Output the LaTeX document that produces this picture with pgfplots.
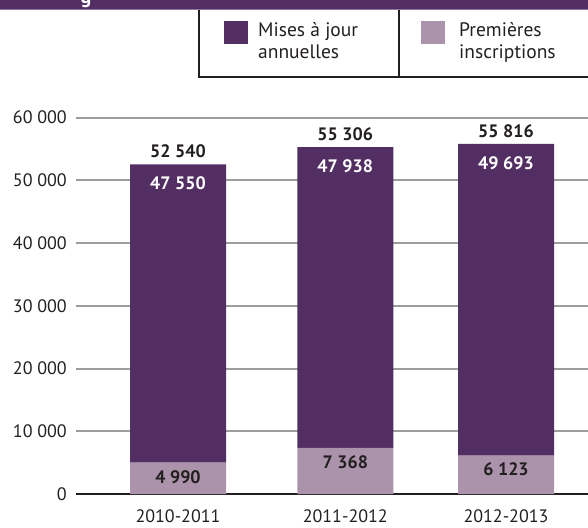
\documentclass[border=0pt]{standalone}
\usepackage{fontspec}
\setmainfont{PT Sans}
\usepackage{pgfplots}
\pgfplotsset{compat=1.18}
\usepackage{pgfplotstable}

\definecolor{violet}{HTML}{532E63}
\definecolor{mauve}{HTML}{AB93AB}
\definecolor{grille}{HTML}{9D9D9D}
\definecolor{encre}{HTML}{231F20}

% x: position de la barre, upd: mises a jour annuelles, first: premieres inscriptions
\pgfplotstableread{
x    upd   first total
0    47550 4990  52540
1.02 47938 7368  55306
2    49693 6123  55816
}\inscr

\newcommand\taille{\fontsize{18}{22}\selectfont}
\pgfkeys{/pgf/number format/.cd, 1000 sep={\ }, assume math mode=true}

\begin{document}
\begin{tikzpicture}[x=1pt,y=1pt]
\path[use as bounding box] (0,0) rectangle (588,527);

\begin{axis}[
  at={(76pt,33pt)}, anchor=south west,
  scale only axis, width=512pt, height=376.3pt,
  xmin=-0.622, xmax=2.5, ymin=0, ymax=60000,
  ybar stacked, bar width=96pt,
  axis x line=bottom, axis y line=left,
  x axis line style={draw=encre, line width=2.5pt, -},
  y axis line style={draw=none},
  major tick length=0pt,
  ymajorgrids, grid style={grille, line width=2pt},
  xtick={0,1.02,2},
  xticklabels={2010-2011,2011-2012,2012-2013},
  ytick={0,10000,...,60000},
  scaled y ticks=false,
  /pgf/number format/.cd, 1000 sep={\ }, assume math mode=true, /pgfplots/.cd,
  tick label style={font=\taille, text=encre, inner sep=0pt},
  yticklabel style={xshift=-9pt},
  xticklabel style={yshift=-15.5pt},
  clip=false,
]
\addplot[fill=mauve, draw=none] table[x=x, y=first] {\inscr};
\addplot[fill=violet, draw=none] table[x=x, y=upd] {\inscr};

% points d'ancrage des etiquettes (haut de chaque segment)
\pgfplotsinvokeforeach{0,1,2}{
  \pgfplotstablegetelem{#1}{x}\of\inscr \let\vx\pgfplotsretval
  \pgfplotstablegetelem{#1}{first}\of\inscr \let\vf\pgfplotsretval
  \pgfplotstablegetelem{#1}{total}\of\inscr \let\vt\pgfplotsretval
  \edef\ancre{%
    \noexpand\coordinate (f#1) at (axis cs:\vx,\vf);
    \noexpand\coordinate (t#1) at (axis cs:\vx,\vt);
  }
  \ancre
}
\end{axis}

% etiquettes des valeurs, par-dessus les barres
\foreach \i in {0,1,2}{
  \pgfplotstablegetelem{\i}{first}\of\inscr \let\vf\pgfplotsretval
  \pgfplotstablegetelem{\i}{upd}\of\inscr \let\vu\pgfplotsretval
  \pgfplotstablegetelem{\i}{total}\of\inscr \let\vt\pgfplotsretval
  \node[text=encre, font=\taille\bfseries, yshift=-14pt] at (f\i) {\pgfmathprintnumber{\vf}};
  \node[text=white, font=\taille\bfseries, yshift=-19pt] at (t\i) {\pgfmathprintnumber{\vu}};
  \node[text=encre, font=\taille\bfseries, yshift=13pt] at (t\i) {\pgfmathprintnumber{\vt}};
}

% bandeau de titre (coupe)
\fill[violet] (0,517.5) rectangle (588,527);
\draw[violet!65, line width=1pt] (0,517) -- (588,517);
\begin{scope}
  \clip (0,517.5) rectangle (588,527);
  \node[white, font=\fontsize{20}{24}\selectfont\bfseries, anchor=base, inner sep=0pt] at (86,523.4) {g};
\end{scope}

% legende
\draw[encre, line width=1.2pt] (199,517) -- (199,450) -- (592,450);
\draw[encre, line width=1.2pt] (399,517) -- (399,450);
\fill[violet] (224,483) rectangle (248,506);
\fill[mauve] (421,483) rectangle (445,506);
\begin{scope}[every node/.style={anchor=base west, inner sep=0pt, text=encre, font=\fontsize{19.5}{23}\selectfont}]
  \node at (258,490) {Mises à jour};
  \node at (258,468) {annuelles};
  \node at (459,490) {Premières};
  \node at (459,468) {inscriptions};
\end{scope}
\end{tikzpicture}
\end{document}
